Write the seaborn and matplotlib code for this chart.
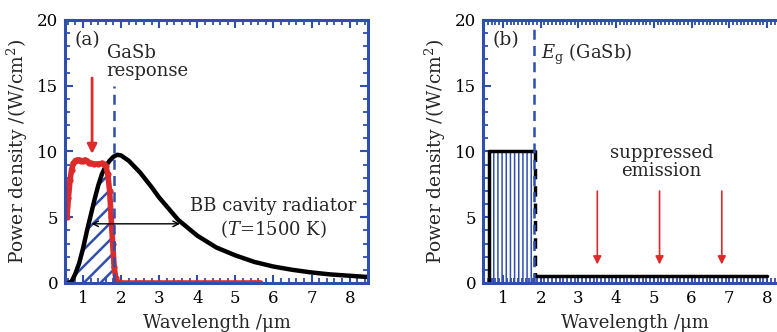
import numpy as np
import pandas as pd
import matplotlib
matplotlib.use("Agg")
import matplotlib.pyplot as plt
import seaborn as sns
from matplotlib.ticker import MultipleLocator

# (a) blackbody cavity radiator, T = 1500 K
bb_wl = [0.60, 0.70, 0.80, 0.90, 1.00, 1.10, 1.20, 1.30, 1.40, 1.50, 1.60, 1.70,
         1.80, 1.90, 2.00, 2.20, 2.50, 2.80, 3.00, 3.50, 4.00, 4.50, 5.00, 5.50,
         6.00, 6.50, 7.00, 7.50, 8.00, 8.50]
bb_pd = [0.0, 0.1, 0.7, 1.5, 2.6, 3.9, 5.1, 6.3, 7.4, 8.3, 8.9, 9.3,
         9.6, 9.75, 9.7, 9.3, 8.4, 7.3, 6.5, 4.8, 3.6, 2.7, 2.1, 1.6,
         1.25, 1.0, 0.8, 0.65, 0.55, 0.45]

# (a) GaSb response
gasb_wl = [0.58, 0.62, 0.66, 0.70, 0.75, 0.80, 0.85, 0.90, 0.95, 1.00, 1.05, 1.10,
           1.15, 1.20, 1.30, 1.40, 1.50, 1.55, 1.60, 1.65, 1.70, 1.74, 1.78, 1.82,
           1.86, 1.90, 1.95, 2.00, 2.50, 3.00, 3.50, 4.00, 4.50, 5.00, 5.50, 5.65]
gasb_pd = [5.0, 6.5, 7.8, 8.6, 9.1, 9.3, 9.35, 9.35, 9.3, 9.3, 9.35, 9.3,
           9.15, 9.1, 9.05, 9.05, 9.1, 9.05, 8.9, 8.3, 7.0, 5.0, 3.0, 1.2,
           0.4, 0.1, 0.0, 0.0, 0.0, 0.0, 0.0, 0.0, 0.0, 0.0, 0.0, 0.0]

# (b) ideal selective emitter
sel_wl = [0.63, 0.63, 1.85]
sel_pd = [0.0, 10.0, 10.0]
drop_wl = [1.85, 1.85]
drop_pd = [10.0, 0.5]
tail_wl = [1.85, 8.0]
tail_pd = [0.5, 0.5]

eg_wl = 1.82
arrow_wl = [3.5, 5.15, 6.8]

blue = "#2f4fae"
red = "#dd2a2a"

sns.set_style("ticks")
plt.rcParams["font.family"] = ["DejaVu Serif"]
plt.rcParams["mathtext.fontset"] = "dejavuserif"
plt.rcParams["hatch.color"] = blue

fig = plt.figure(figsize=(7.77, 3.32), dpi=100)
ax1 = fig.add_axes([0.0837, 0.1476, 0.3899, 0.7922])
ax2 = fig.add_axes([0.6216, 0.1476, 0.3899, 0.7922])


def style_axes(ax, xminor):
    ax.set_ylim(0, 20)
    ax.yaxis.set_major_locator(MultipleLocator(5))
    ax.yaxis.set_minor_locator(MultipleLocator(1))
    ax.xaxis.set_major_locator(MultipleLocator(1))
    ax.xaxis.set_minor_locator(MultipleLocator(xminor))
    ax.tick_params(which="both", direction="in", color=blue, top=True, right=True,
                   labelsize=12, labelcolor="black", pad=5)
    ax.tick_params(which="major", length=6, width=1.5)
    ax.tick_params(which="minor", length=3.5, width=1.3)
    for s in ax.spines.values():
        s.set_color(blue)
        s.set_linewidth(2.2)
    ax.set_xlabel("Wavelength /μm", fontsize=13, labelpad=5)
    ax.set_ylabel("Power density /(W/cm$^2$)", fontsize=13.5, labelpad=5)


# ---- panel (a)
ax1.set_xlim(0.53, 8.48)
# hatched area under both curves up to the band edge
plt.rcParams["hatch.linewidth"] = 1.8
hx = np.linspace(0.6, eg_wl, 200)
hy = np.minimum(np.interp(hx, bb_wl, bb_pd), np.interp(hx, gasb_wl, gasb_pd))
ax1.fill_between(hx, 0, hy, facecolor="none", edgecolor=blue, hatch="//", linewidth=0)

sns.lineplot(x=bb_wl, y=bb_pd, ax=ax1, color="black", linewidth=3.2)
sns.lineplot(x=gasb_wl, y=gasb_pd, ax=ax1, color=red, linewidth=4,
             marker="o", markersize=4.5, markeredgewidth=0)
ax1.plot([eg_wl, eg_wl], [0, 15], color=blue, linestyle=(0, (4, 2.5)), linewidth=1.8)
ax1.annotate("", xy=(1.24, 9.6), xytext=(1.24, 15.8),
             arrowprops=dict(arrowstyle="-|>", color=red, lw=2.0, mutation_scale=14))
ax1.annotate("", xy=(1.15, 4.5), xytext=(3.62, 4.5),
             arrowprops=dict(arrowstyle="<->", color="black", lw=1.0, mutation_scale=10))
ax1.text(0.78, 18.5, "(a)", fontsize=13.5, va="center")
ax1.text(1.62, 16.8, "GaSb\nresponse", fontsize=13, va="center", linespacing=1.0)
ax1.text(6.0, 4.9, "BB cavity radiator\n($T$=1500 K)", fontsize=13, ha="center",
         va="center", linespacing=1.15)
style_axes(ax1, 0.2)

# ---- panel (b)
ax2.set_xlim(0.47, 8.5)
plt.rcParams["hatch.linewidth"] = 1.1
ax2.fill_between([0.63, 1.82], 0, 10, facecolor="none", edgecolor=blue,
                 hatch="||||", linewidth=0)
sns.lineplot(x=sel_wl, y=sel_pd, ax=ax2, color="black", linewidth=2.5,
             sort=False, estimator=None)
sns.lineplot(x=tail_wl, y=tail_pd, ax=ax2, color="black", linewidth=2.5,
             sort=False, estimator=None)
ax2.plot(drop_wl, drop_pd, color="black", linewidth=2.5, linestyle=(0, (3, 2)))
ax2.plot([eg_wl, eg_wl], [0, 19.3], color=blue, linestyle=(0, (4, 2.5)), linewidth=1.8)
for xa in arrow_wl:
    ax2.annotate("", xy=(xa, 1.2), xytext=(xa, 7.2),
                 arrowprops=dict(arrowstyle="-|>", color=red, lw=1.2, mutation_scale=12))
ax2.text(0.73, 18.5, "(b)", fontsize=13.5, va="center")
ax2.text(2.0, 17.4, "$E_\\mathrm{g}$ (GaSb)", fontsize=13, va="center")
ax2.text(5.2, 9.2, "suppressed\nemission", fontsize=13, ha="center", va="center",
         linespacing=1.0)
style_axes(ax2, 0.1)

fig.savefig("out.png", dpi=100)
